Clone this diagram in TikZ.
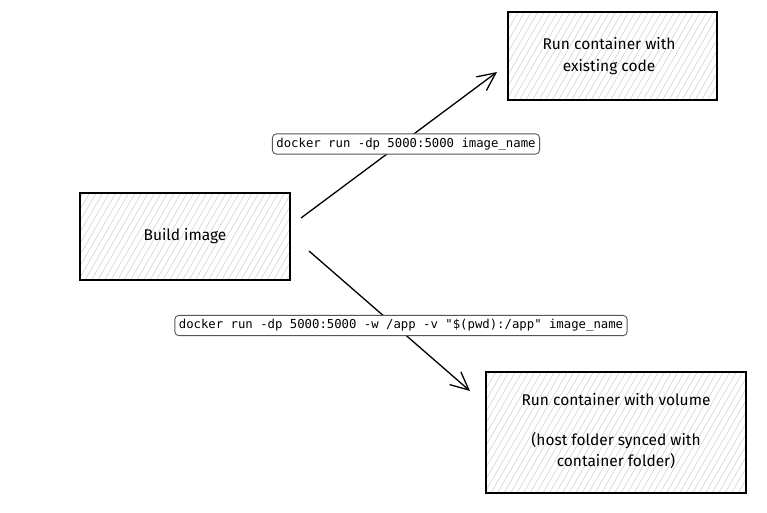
\documentclass[tikz,border=0pt]{standalone}
\usepackage{fontspec}
\setmainfont{Fira Sans}
\newfontfamily\monofont{DejaVu Sans Mono}
\usetikzlibrary{arrows.meta}
\definecolor{hatchgray}{HTML}{CDCDCD}
\definecolor{labelborder}{HTML}{555555}
\tikzset{
  box/.style={draw=black, line width=1.2pt, inner sep=0pt},
  hatch/.style={draw=hatchgray, line width=0.5pt},
  boxtext/.style={font=\fontsize{15.5}{22}\selectfont, align=center, inner sep=0pt},
  cmdlabel/.style={draw=labelborder, line width=0.9pt, rounded corners=4pt, fill=white,
    font=\monofont\fontsize{12.3}{14}\selectfont, inner xsep=4pt, inner ysep=4pt},
  flow/.style={line width=1.3pt, -{Straight Barb[length=18pt,width=17pt,line width=1.3pt]}}
}
\begin{document}
\begin{tikzpicture}[x=1pt,y=-1pt]
\useasboundingbox (0,0) rectangle (767,512);
\fill[white] (0,0) rectangle (767,512);
% hatching
\begin{scope}
  \clip (80,193) rectangle (290,280);
  \foreach \i in {20,26.5,...,300} \draw[hatch] (\i,280) -- ++(50.2,-87);
\end{scope}
\begin{scope}
  \clip (508,12) rectangle (717,100);
  \foreach \i in {448,454.5,...,730} \draw[hatch] (\i,100) -- ++(50.8,-88);
\end{scope}
\begin{scope}
  \clip (486,372) rectangle (746,493);
  \foreach \i in {400,406.5,...,760} \draw[hatch] (\i,493) -- ++(69.9,-121);
\end{scope}
% boxes
\node[box, minimum width=210pt, minimum height=87pt] (build) at (185,236.5) {};
\node[box, minimum width=209pt, minimum height=88pt] (run) at (612.5,56) {};
\node[box, minimum width=260pt, minimum height=121pt] (vol) at (616,432.5) {};
\node[boxtext] (buildtxt) at (185,236) {Build image};
\node[boxtext] (runtxt) at (609,56) {Run container with\\existing code};
\node[boxtext, font=\fontsize{15.5}{21}\selectfont] (voltxt) at (616,431.5) {Run container with volume\\[19pt](host folder synced with\\container folder)};
% arrows
\coordinate (a1s) at (301,218);
\coordinate (a1e) at (497,72);
\coordinate (a2s) at (309,251);
\coordinate (a2e) at (470,391);
\draw[flow] (a1s) -- (a1e);
\draw[flow] (a2s) -- (a2e);
% labels
\node[cmdlabel] (l1) at (406,144) {docker run -dp 5000:5000 image\_name};
\node[cmdlabel] (l2) at (401,325.5) {docker run -dp 5000:5000 -w /app -v "\$(pwd):/app" image\_name};
\end{tikzpicture}
\end{document}
